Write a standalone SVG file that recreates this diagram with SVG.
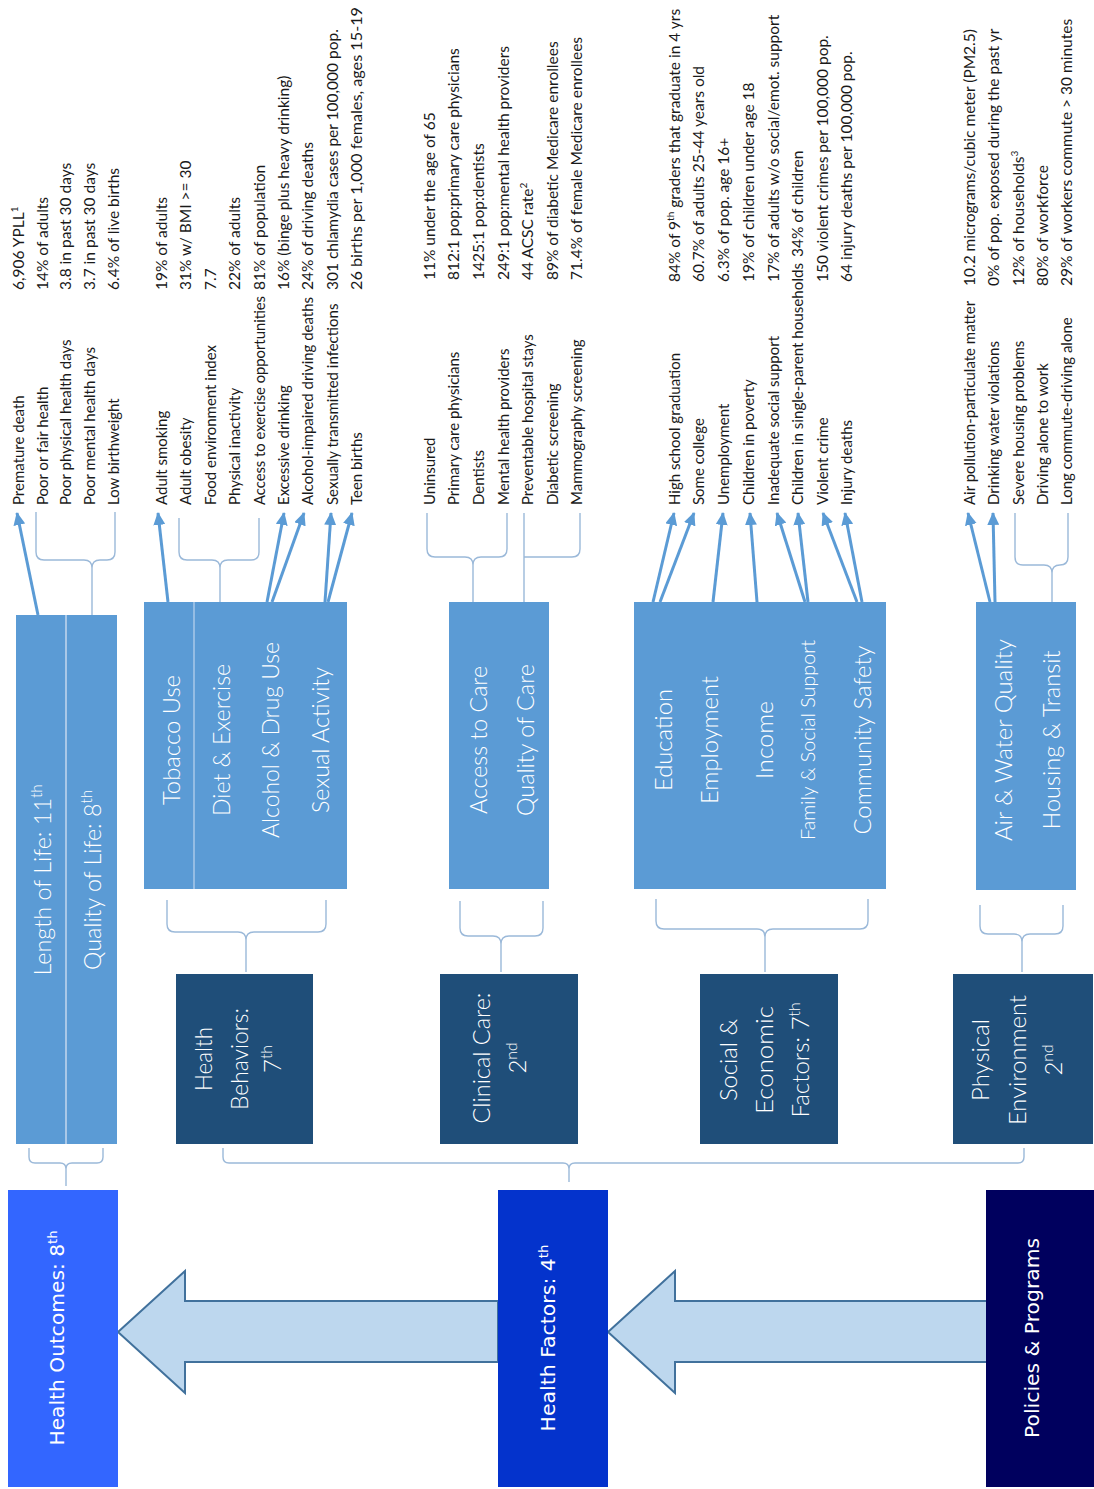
<svg xmlns="http://www.w3.org/2000/svg" width="1094" height="1489" viewBox="0 0 1094 1489">
<style>
.lb{font-family:Lato,"Liberation Sans",sans-serif;font-size:15.5px;fill:#1a1a1a}
.lab .lb{font-size:15px}
.bx{font-family:Lato,"Liberation Sans",sans-serif;font-weight:300;font-size:24px;fill:#ffffff;text-anchor:middle}
.big{font-family:"DejaVu Sans","Liberation Sans",sans-serif;font-size:20px;fill:#ffffff;text-anchor:middle}
.sup{font-size:65%;baseline-shift:super}
.sub{fill:#5b9bd5}
.dark{fill:#1f4e79}
.brace{fill:none;stroke:#9bb9d9;stroke-width:1.4}
.arr{stroke:#5b9bd5;stroke-width:3;fill:none;marker-end:url(#ah)}
.bigarr{fill:#bdd7ee;stroke:#41719c;stroke-width:2}
.div{stroke:#a9c8e8;stroke-width:2}
</style>
<defs>
<marker id="ah" markerWidth="14" markerHeight="12" refX="12" refY="6" orient="auto" markerUnits="userSpaceOnUse"><path d="M0,0 L13,6 L0,12 z" fill="#5b9bd5"/></marker>
</defs>
<rect width="1094" height="1489" fill="#ffffff"/>

<g id="connectors">
<polygon class="bigarr" points="118,1332 185,1271 185,1301 498,1301 498,1362 185,1362 185,1393"/>
<polygon class="bigarr" points="608,1332 675,1271 675,1301 987,1301 987,1362 675,1362 675,1393"/>
<path class="brace" d="M29,1148 V1157 Q29,1163 35,1163 H60 Q66,1163 66,1169 V1186 M103,1148 V1157 Q103,1163 97,1163 H72 Q66,1163 66,1169"/>
<path class="brace" d="M223,1148 V1157 Q223,1163 229,1163 H563 Q569,1163 569,1169 V1182 M1024,1148 V1157 Q1024,1163 1018,1163 H575 Q569,1163 569,1169"/>
<path class="brace" d="M167,900 V924 Q167,932 175,932 H238 Q246,932 246,940 V972 M326,900 V924 Q326,932 318,932 H254 Q246,932 246,940"/>
<path class="brace" d="M460,901 V928 Q460,936 468,936 H493 Q501,936 501,944 V972 M543,901 V928 Q543,936 535,936 H509 Q501,936 501,944"/>
<path class="brace" d="M656,899 V921 Q656,929 664,929 H757 Q765,929 765,937 V972 M868,899 V921 Q868,929 860,929 H773 Q765,929 765,937"/>
<path class="brace" d="M980,905 V926 Q980,934 988,934 H1014 Q1022,934 1022,942 V972 M1063,905 V926 Q1063,934 1055,934 H1030 Q1022,934 1022,942"/>
<path class="brace" d="M36,512 V552 Q36,560 44,560 H84 Q92,560 92,568 V615 M115,512 V552 Q115,560 107,560 H100 Q92,560 92,568"/>
<path class="brace" d="M179,518 V552 Q179,560 187,560 H212 Q220,560 220,568 V602 M259,518 V552 Q259,560 251,560 H228 Q220,560 220,568"/>
<path class="brace" d="M427,513 V549 Q427,557 435,557 H465 Q473,557 473,565 V602 M507,513 V549 Q507,557 499,557 H481 Q473,557 473,565"/>
<path class="brace" d="M524,513 V602 M580,513 V549 Q580,557 572,557 H524"/>
<path class="brace" d="M1015,513 V557 Q1015,565 1023,565 H1044 Q1052,565 1052,573 V602 M1068,513 V557 Q1068,565 1060,565 Q1052,565 1052,573"/>
<line class="arr" x1="38" y1="615" x2="17" y2="513"/>
<line class="arr" x1="168" y1="602" x2="158" y2="513"/>
<line class="arr" x1="267" y1="602" x2="284" y2="513"/>
<line class="arr" x1="272" y1="602" x2="304" y2="513"/>
<line class="arr" x1="325" y1="602" x2="331" y2="513"/>
<line class="arr" x1="328" y1="602" x2="352" y2="513"/>
<line class="arr" x1="653" y1="602" x2="674" y2="513"/>
<line class="arr" x1="660" y1="602" x2="694" y2="513"/>
<line class="arr" x1="713" y1="602" x2="723" y2="513"/>
<line class="arr" x1="757" y1="602" x2="750" y2="513"/>
<line class="arr" x1="805" y1="602" x2="777" y2="513"/>
<line class="arr" x1="808" y1="602" x2="798" y2="513"/>
<line class="arr" x1="857" y1="602" x2="823" y2="513"/>
<line class="arr" x1="862" y1="602" x2="845" y2="513"/>
<line class="arr" x1="990" y1="602" x2="968" y2="513"/>
<line class="arr" x1="995" y1="602" x2="993" y2="513"/>
</g>

<g id="health-outcomes">
<rect x="8" y="1190" width="110" height="297" fill="#3366ff"/>
<text class="big" transform="translate(64,1338) rotate(-90)" textLength="215" lengthAdjust="spacingAndGlyphs">Health Outcomes: 8<tspan class="sup">th</tspan></text>
</g>
<g id="health-factors">
<rect x="498" y="1190" width="110" height="297" fill="#0433cc"/>
<text class="big" transform="translate(555,1338) rotate(-90)" textLength="187" lengthAdjust="spacingAndGlyphs">Health Factors: 4<tspan class="sup">th</tspan></text>
</g>
<g id="policies-programs">
<rect x="986" y="1190" width="108" height="297" fill="#00005e"/>
<text class="big" transform="translate(1039,1338) rotate(-90)" textLength="200" lengthAdjust="spacingAndGlyphs">Policies &amp; Programs</text>
</g>

<g id="length-quality">
<rect class="sub" x="16" y="615" width="101" height="529"/>
<line class="div" x1="66" y1="615" x2="66" y2="1144"/>
<text class="bx" transform="translate(51,880) rotate(-90)" textLength="191" lengthAdjust="spacingAndGlyphs">Length of Life: 11<tspan class="sup">th</tspan></text>
<text class="bx" transform="translate(101,880) rotate(-90)" textLength="180" lengthAdjust="spacingAndGlyphs">Quality of Life: 8<tspan class="sup">th</tspan></text>
</g>

<g id="behaviors-sub">
<rect class="sub" x="144" y="602" width="203" height="287"/>
<line class="div" x1="194" y1="602" x2="194" y2="889" style="stroke-width:1.5"/>
<text class="bx" transform="translate(180,740) rotate(-90)" textLength="130" lengthAdjust="spacingAndGlyphs">Tobacco Use</text>
<text class="bx" transform="translate(230,740) rotate(-90)" textLength="152" lengthAdjust="spacingAndGlyphs">Diet &amp; Exercise</text>
<text class="bx" transform="translate(279,740) rotate(-90)" textLength="196" lengthAdjust="spacingAndGlyphs">Alcohol &amp; Drug Use</text>
<text class="bx" transform="translate(329,740) rotate(-90)" textLength="146" lengthAdjust="spacingAndGlyphs">Sexual Activity</text>
</g>
<g id="health-behaviors">
<rect class="dark" x="176" y="974" width="137" height="170"/>
<text class="bx" transform="translate(212,1059) rotate(-90)" textLength="64" lengthAdjust="spacingAndGlyphs">Health</text>
<text class="bx" transform="translate(248,1059) rotate(-90)" textLength="102" lengthAdjust="spacingAndGlyphs">Behaviors:</text>
<text class="bx" transform="translate(281,1059) rotate(-90)">7<tspan class="sup">th</tspan></text>
</g>

<g id="clinical-sub">
<rect class="sub" x="449" y="602" width="100" height="287"/>
<text class="bx" transform="translate(487,740) rotate(-90)" textLength="148" lengthAdjust="spacingAndGlyphs">Access to Care</text>
<text class="bx" transform="translate(534,740) rotate(-90)" textLength="152" lengthAdjust="spacingAndGlyphs">Quality of Care</text>
</g>
<g id="clinical-care">
<rect class="dark" x="440" y="974" width="138" height="170"/>
<text class="bx" transform="translate(490,1058) rotate(-90)" textLength="131" lengthAdjust="spacingAndGlyphs">Clinical Care:</text>
<text class="bx" transform="translate(526,1058) rotate(-90)">2<tspan class="sup">nd</tspan></text>
</g>

<g id="social-sub">
<rect class="sub" x="634" y="602" width="252" height="287"/>
<text class="bx" transform="translate(672,740) rotate(-90)" textLength="102" lengthAdjust="spacingAndGlyphs">Education</text>
<text class="bx" transform="translate(718,740) rotate(-90)" textLength="128" lengthAdjust="spacingAndGlyphs">Employment</text>
<text class="bx" transform="translate(773,740) rotate(-90)" textLength="78" lengthAdjust="spacingAndGlyphs">Income</text>
<text class="bx" transform="translate(815,740) rotate(-90)" style="font-size:20px" textLength="200" lengthAdjust="spacingAndGlyphs">Family &amp; Social Support</text>
<text class="bx" transform="translate(871,740) rotate(-90)" textLength="189" lengthAdjust="spacingAndGlyphs">Community Safety</text>
</g>
<g id="social-economic">
<rect class="dark" x="700" y="974" width="138" height="170"/>
<text class="bx" transform="translate(737,1060) rotate(-90)" textLength="82" lengthAdjust="spacingAndGlyphs">Social &amp;</text>
<text class="bx" transform="translate(773,1060) rotate(-90)" textLength="108" lengthAdjust="spacingAndGlyphs">Economic</text>
<text class="bx" transform="translate(809,1060) rotate(-90)" textLength="115" lengthAdjust="spacingAndGlyphs">Factors: 7<tspan class="sup">th</tspan></text>
</g>

<g id="physical-sub">
<rect class="sub" x="976" y="602" width="100" height="288"/>
<text class="bx" transform="translate(1012,740) rotate(-90)" textLength="202" lengthAdjust="spacingAndGlyphs">Air &amp; Water Quality</text>
<text class="bx" transform="translate(1060,740) rotate(-90)" textLength="179" lengthAdjust="spacingAndGlyphs">Housing &amp; Transit</text>
</g>
<g id="physical-environment">
<rect class="dark" x="953" y="974" width="140" height="170"/>
<text class="bx" transform="translate(989,1060) rotate(-90)" textLength="82" lengthAdjust="spacingAndGlyphs">Physical</text>
<text class="bx" transform="translate(1026,1060) rotate(-90)" textLength="130" lengthAdjust="spacingAndGlyphs">Environment</text>
<text class="bx" transform="translate(1062,1060) rotate(-90)">2<tspan class="sup">nd</tspan></text>
</g>

<g id="outcome-measures">
<g class="lab">
<text class="lb" transform="translate(24,505) rotate(-90)">Premature death</text>
<text class="lb" transform="translate(48,505) rotate(-90)">Poor or fair health</text>
<text class="lb" transform="translate(71,505) rotate(-90)">Poor physical health days</text>
<text class="lb" transform="translate(95,505) rotate(-90)">Poor mental health days</text>
<text class="lb" transform="translate(119,505) rotate(-90)">Low birthweight</text>
</g>
<text class="lb" transform="translate(24,290) rotate(-90)">6,906 YPLL<tspan class="sup">1</tspan></text>
<text class="lb" transform="translate(48,290) rotate(-90)">14% of adults</text>
<text class="lb" transform="translate(71,290) rotate(-90)">3.8 in past 30 days</text>
<text class="lb" transform="translate(95,290) rotate(-90)">3.7 in past 30 days</text>
<text class="lb" transform="translate(119,290) rotate(-90)">6.4% of live births</text>
</g>

<g id="behavior-measures">
<g class="lab">
<text class="lb" transform="translate(167,505) rotate(-90)">Adult smoking</text>
<text class="lb" transform="translate(191,505) rotate(-90)">Adult obesity</text>
<text class="lb" transform="translate(216,505) rotate(-90)">Food environment index</text>
<text class="lb" transform="translate(240,505) rotate(-90)">Physical inactivity</text>
<text class="lb" transform="translate(265,505) rotate(-90)" textLength="209" lengthAdjust="spacingAndGlyphs">Access to exercise opportunities</text>
<text class="lb" transform="translate(289,505) rotate(-90)">Excessive drinking</text>
<text class="lb" transform="translate(313,505) rotate(-90)" textLength="208" lengthAdjust="spacingAndGlyphs">Alcohol-impaired driving deaths</text>
<text class="lb" transform="translate(338,505) rotate(-90)">Sexually transmitted infections</text>
<text class="lb" transform="translate(362,505) rotate(-90)">Teen births</text>
</g>
<text class="lb" transform="translate(167,290) rotate(-90)">19% of adults</text>
<text class="lb" transform="translate(191,290) rotate(-90)">31% w/ BMI &gt;= 30</text>
<text class="lb" transform="translate(216,290) rotate(-90)">7.7</text>
<text class="lb" transform="translate(240,290) rotate(-90)">22% of adults</text>
<text class="lb" transform="translate(265,290) rotate(-90)">81% of population</text>
<text class="lb" transform="translate(289,290) rotate(-90)">16% (binge plus heavy drinking)</text>
<text class="lb" transform="translate(313,290) rotate(-90)">24% of driving deaths</text>
<text class="lb" transform="translate(338,290) rotate(-90)">301 chlamydia cases per 100,000 pop.</text>
<text class="lb" transform="translate(362,290) rotate(-90)" textLength="283" lengthAdjust="spacingAndGlyphs">26 births per 1,000 females, ages 15-19</text>
</g>

<g id="clinical-measures">
<g class="lab">
<text class="lb" transform="translate(435,505) rotate(-90)">Uninsured</text>
<text class="lb" transform="translate(459,505) rotate(-90)">Primary care physicians</text>
<text class="lb" transform="translate(484,505) rotate(-90)">Dentists</text>
<text class="lb" transform="translate(509,505) rotate(-90)">Mental health providers</text>
<text class="lb" transform="translate(533,505) rotate(-90)">Preventable hospital stays</text>
<text class="lb" transform="translate(558,505) rotate(-90)">Diabetic screening</text>
<text class="lb" transform="translate(582,505) rotate(-90)">Mammography screening</text>
</g>
<text class="lb" transform="translate(435,280) rotate(-90)">11% under the age of 65</text>
<text class="lb" transform="translate(459,280) rotate(-90)">812:1 pop:primary care physicians</text>
<text class="lb" transform="translate(484,280) rotate(-90)">1425:1 pop:dentists</text>
<text class="lb" transform="translate(509,280) rotate(-90)">249:1 pop:mental health providers</text>
<text class="lb" transform="translate(533,280) rotate(-90)">44 ACSC rate<tspan class="sup">2</tspan></text>
<text class="lb" transform="translate(558,280) rotate(-90)">89% of diabetic Medicare enrollees</text>
<text class="lb" transform="translate(582,280) rotate(-90)">71.4% of female Medicare enrollees</text>
</g>

<g id="social-measures">
<g class="lab">
<text class="lb" transform="translate(680,505) rotate(-90)">High school graduation</text>
<text class="lb" transform="translate(704,505) rotate(-90)">Some college</text>
<text class="lb" transform="translate(729,505) rotate(-90)">Unemployment</text>
<text class="lb" transform="translate(754,505) rotate(-90)">Children in poverty</text>
<text class="lb" transform="translate(779,505) rotate(-90)">Inadequate social support</text>
<text class="lb" transform="translate(803,505) rotate(-90)" textLength="242" lengthAdjust="spacingAndGlyphs">Children in single-parent households</text>
<text class="lb" transform="translate(828,505) rotate(-90)">Violent crime</text>
<text class="lb" transform="translate(852,505) rotate(-90)">Injury deaths</text>
</g>
<text class="lb" transform="translate(680,282) rotate(-90)">84% of 9<tspan class="sup">th</tspan> graders that graduate in 4 yrs</text>
<text class="lb" transform="translate(704,282) rotate(-90)">60.7% of adults 25-44 years old</text>
<text class="lb" transform="translate(729,282) rotate(-90)">6.3% of pop. age 16+</text>
<text class="lb" transform="translate(754,282) rotate(-90)">19% of children under age 18</text>
<text class="lb" transform="translate(779,282) rotate(-90)">17% of adults w/o social/emot. support</text>
<text class="lb" transform="translate(803,257) rotate(-90)">34% of children</text>
<text class="lb" transform="translate(828,282) rotate(-90)">150 violent crimes per 100,000 pop.</text>
<text class="lb" transform="translate(852,282) rotate(-90)">64 injury deaths per 100,000 pop.</text>
</g>

<g id="physical-measures">
<g class="lab">
<text class="lb" transform="translate(975,505) rotate(-90)">Air pollution-particulate matter</text>
<text class="lb" transform="translate(999,505) rotate(-90)">Drinking water violations</text>
<text class="lb" transform="translate(1024,505) rotate(-90)">Severe housing problems</text>
<text class="lb" transform="translate(1048,505) rotate(-90)">Driving alone to work</text>
<text class="lb" transform="translate(1072,505) rotate(-90)">Long commute-driving alone</text>
</g>
<text class="lb" transform="translate(975,286) rotate(-90)">10.2 micrograms/cubic meter (PM2.5)</text>
<text class="lb" transform="translate(999,286) rotate(-90)">0% of pop. exposed during the past yr</text>
<text class="lb" transform="translate(1024,286) rotate(-90)">12% of households<tspan class="sup">3</tspan></text>
<text class="lb" transform="translate(1048,286) rotate(-90)">80% of workforce</text>
<text class="lb" transform="translate(1072,286) rotate(-90)">29% of workers commute &gt; 30 minutes</text>
</g>
</svg>
